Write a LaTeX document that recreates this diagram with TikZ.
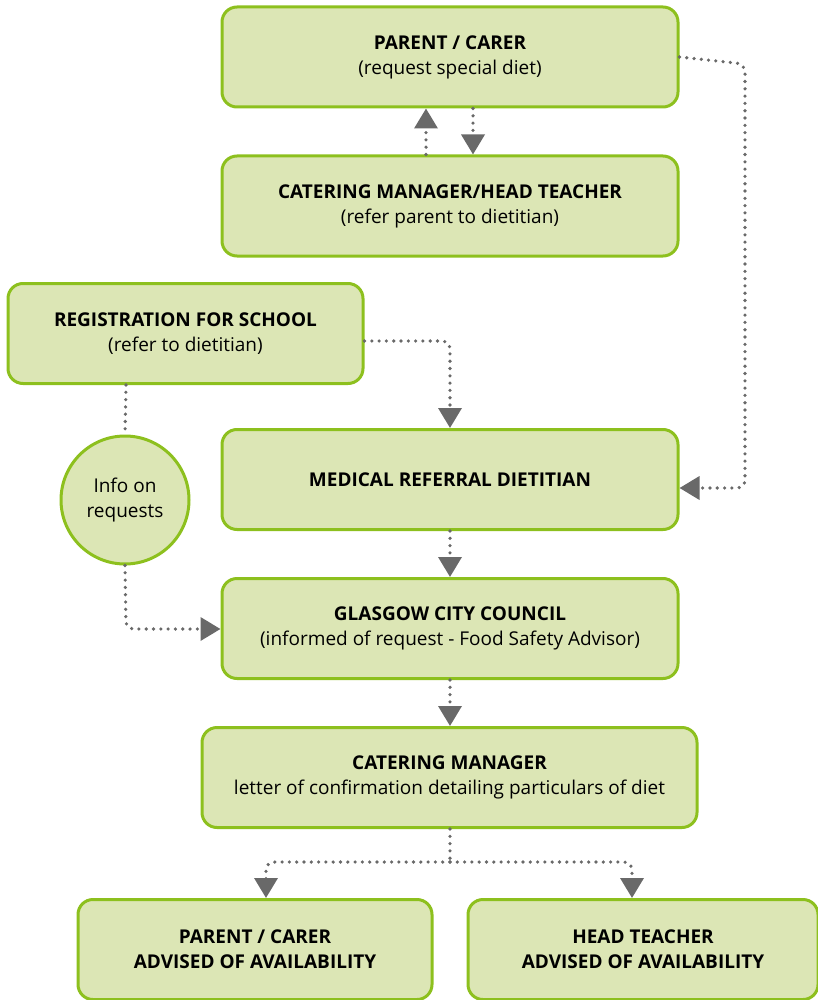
\documentclass[tikz,border=0pt]{standalone}
\usepackage{fontspec}
\setmainfont{Open Sans}
\usetikzlibrary{arrows.meta}
\definecolor{boxfill}{RGB}{220,230,181}
\definecolor{boxline}{RGB}{141,192,30}
\definecolor{conn}{RGB}{105,105,105}
\tikzset{
  box/.style={draw=boxline, fill=boxfill, line width=3pt, rounded corners=15pt, minimum width=#1, minimum height=100pt, align=center, font=\fontsize{19}{25}\selectfont, inner sep=0pt},
  circ/.style={draw=boxline, fill=boxfill, line width=3pt, circle, minimum size=128pt, align=center, font=\fontsize{19}{25}\selectfont, inner sep=0pt},
  dotline/.style={draw=conn, line width=3.6pt, line cap=round, dash pattern=on 0pt off 7.3pt, rounded corners=8pt},
  arr/.style={dotline, -{Triangle[width=23pt,length=20pt,fill=conn]}}
}
\begin{document}
\begin{tikzpicture}[x=1pt,y=-1pt]
\useasboundingbox (0,0) rectangle (818,1000);
\node[box=456pt] (pc) at (450,57) {\textbf{PARENT / CARER}\\(request special diet)};
\node[box=456pt] (cm) at (450,206) {\textbf{CATERING MANAGER/HEAD TEACHER}\\(refer parent to dietitian)};
\node[box=355pt] (reg) at (185.5,333.5) {\textbf{REGISTRATION FOR SCHOOL}\\(refer to dietitian)};
\node[box=456pt] (med) at (450,479.5) {\textbf{MEDICAL REFERRAL DIETITIAN}};
\node[circ] (info) at (125,500) {Info on\\requests};
\node[box=456pt] (gcc) at (450,628.5) {\textbf{GLASGOW CITY COUNCIL}\\(informed of request - Food Safety Advisor)};
\node[box=495pt] (cat) at (449.5,777.5) {\textbf{CATERING MANAGER}\\letter of confirmation detailing particulars of diet};
\node[box=354pt] (adv1) at (255,949.5) {\textbf{PARENT / CARER}\\\textbf{ADVISED OF AVAILABILITY}};
\node[box=350pt] (adv2) at (643,949.5) {\textbf{HEAD TEACHER}\\\textbf{ADVISED OF AVAILABILITY}};
\coordinate (s1) at (426,0);
\coordinate (s2) at (473,0);
\draw[arr] (s1 |- cm.north) -- (s1 |- pc.south);
\draw[arr] (s2 |- pc.south) -- (s2 |- cm.north);
\draw[arr] (pc.east) -- (745,64) -- (745,488) -- (med.east |- 0,488);
\draw[arr] (reg.east |- 0,341) -- (450,341) -- (med.north -| 450,0);
\draw[dotline] (reg.south -| 126,0) -- (info.north);
\draw[arr] (info.south) -- (126,629) -- (gcc.west |- 0,629);
\draw[arr] (med.south) -- (gcc.north);
\draw[arr] (gcc.south) -- (cat.north -| 450,0);
\coordinate (split) at (450,862);
\draw[dotline] (cat.south -| 450,0) -- (split);
\draw[arr] (split) -- (266,862) -- (adv1.north -| 266,0);
\draw[arr] (split) -- (632,862) -- (adv2.north -| 632,0);
\end{tikzpicture}
\end{document}
